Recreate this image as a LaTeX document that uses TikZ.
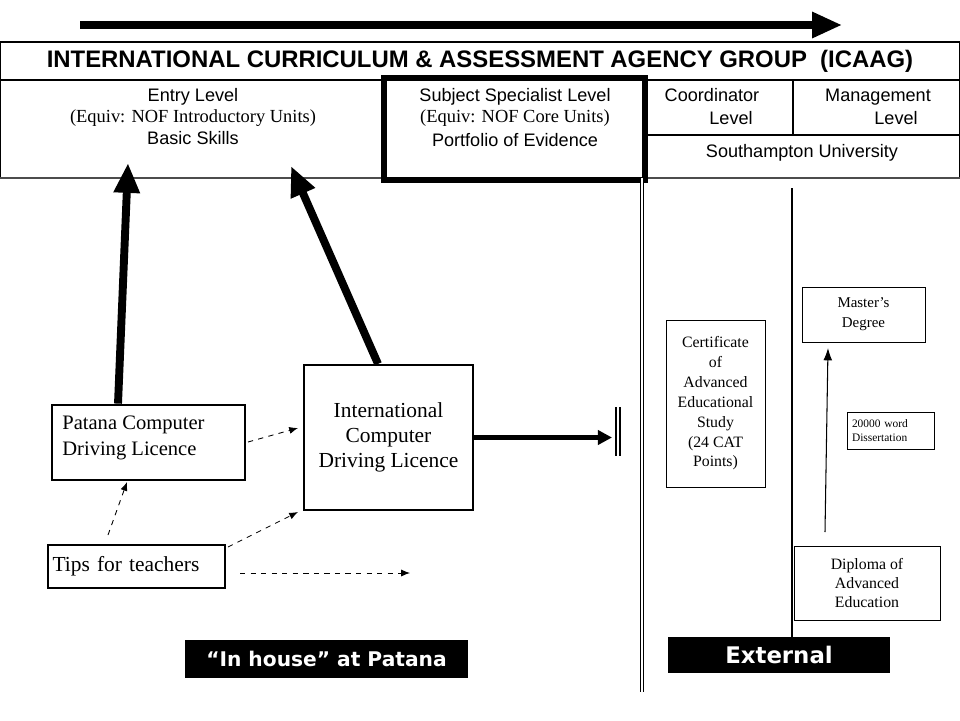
\documentclass[tikz,border=0pt]{standalone}
\usepackage{fontspec}
\setmainfont{Liberation Serif}
\setsansfont{Liberation Sans}
\newfontfamily\tagfont{DejaVu Sans}
\usetikzlibrary{arrows.meta}
\tikzset{>=latex}
\tikzset{
  stepbox/.style={draw, line width=1.6pt, inner sep=0pt},
  thinbox/.style={draw, line width=0.5pt, inner sep=0pt, align=center},
  tagbox/.style={fill=black, text=white, inner sep=0pt, font=\tagfont\bfseries\fontsize{11.5}{13}\selectfont},
  hint/.style={dashed, line width=0.5pt, -{Latex[length=5pt,width=4pt]}},
  bigarrow/.style={line width=4.5pt, -{Triangle[length=17pt,width=14pt]}},
  headtext/.style={font=\sffamily\fontsize{10.3}{11}\selectfont, text height=1.6ex, text depth=0.4ex},
  equivtext/.style={font=\fontsize{10.5}{11}\selectfont, text height=1.6ex, text depth=0.4ex},
}

\begin{document}
\begin{tikzpicture}[x=0.02cm,y=-0.02cm]
\useasboundingbox (0,0) rectangle (960,720);
% progression arrow along the top
\coordinate (start) at (80,25);
\coordinate (finish) at (842,25);
\draw[line width=4pt,-{Triangle[length=17pt,width=14pt]}] (start) -- (finish);
% ICAAG table
\draw[line width=0.6pt] (0.5,42) rectangle (959.5,178);
\draw[line width=0.6pt] (0,80) -- (960,80);
\draw[line width=0.6pt] (793,80) -- (793,135);
\draw[line width=0.6pt] (645,135) -- (960,135);
\draw[line width=1pt, black!70] (0,178) -- (960,178);
\draw[line width=3.4pt] (384,78) rectangle (645,180);
\node[font=\sffamily\bfseries\fontsize{13.6}{15}\selectfont] (title) at (480,61) {INTERNATIONAL CURRICULUM \& ASSESSMENT AGENCY GROUP~~(ICAAG)};
% Entry level
\node[headtext] (entry) at (193,97) {Entry Level};
\node[equivtext] (entryequiv) at (193,118) {(Equiv: NOF Introductory Units)};
\node[headtext] (entrybasic) at (193,140) {Basic Skills};
% Subject specialist level
\node[headtext] (core) at (515,97) {Subject Specialist Level};
\node[equivtext] (coreequiv) at (515,118) {(Equiv: NOF Core Units)};
\node[headtext] (coreport) at (515,142) {Portfolio of Evidence};
% Coordinator / management
\node[headtext] (coord) at (712,97) {Coordinator};
\node[headtext] (coordlvl) at (731,120) {Level};
\node[headtext] (manage) at (878,97) {Management};
\node[headtext] (managelvl) at (896,120) {Level};
\node[headtext] (soton) at (802,153) {Southampton University};
% dividers
\draw[double, double distance=1.5pt, line width=0.6pt] (642,178) -- (642,692);
\draw[line width=0.6pt] (792,188) -- (792,640);
% in house boxes
\node[stepbox, minimum width=3.86cm, minimum height=1.5cm] (pcdl) at (148.5,442.5) {};
\node[anchor=north west, inner sep=0pt, align=left, font=\fontsize{11.7}{14.8}\selectfont] (pcdltext) at (62,416) {Patana Computer\\Driving Licence};
\node[stepbox, minimum width=3.54cm, minimum height=0.86cm, text width=3.36cm, align=left,
  font=\fontsize{12.2}{14}\selectfont] (tips) at (136.5,566.5) {Tips for teachers};
\node[stepbox, line width=1.3pt, minimum width=3.38cm, minimum height=2.9cm, align=center,
  font=\fontsize{12.2}{14.2}\selectfont] (icdl) at (388.5,437.5) {International\\Computer\\Driving Licence};
% external boxes
\node[thinbox, minimum width=1.98cm, minimum height=3.34cm, font=\fontsize{9}{11.3}\selectfont] (caes) at (715.5,403.5)
  {Certificate\\of\\Advanced\\Educational\\Study\\(24 CAT\\Points)};
\node[thinbox, minimum width=2.46cm, minimum height=1.1cm, font=\fontsize{8.5}{11.4}\selectfont] (masters) at (863.5,314.5) {Master’s\\Degree};
\node[thinbox, minimum width=1.74cm, minimum height=0.74cm, text width=1.54cm, align=left,
  font=\fontsize{6.5}{8}\selectfont] (diss) at (890.5,430.5) {20000 word\\Dissertation};
\node[thinbox, minimum width=2.92cm, minimum height=1.48cm, font=\fontsize{9}{10.8}\selectfont] (dae) at (867,583) {Diploma of\\Advanced\\Education};
% black tags
\node[tagbox, minimum width=5.66cm, minimum height=0.76cm] (inhouse) at (326.5,659) {“In house” at Patana};
\node[tagbox, minimum width=4.44cm, minimum height=0.72cm, font=\tagfont\bfseries\fontsize{13}{14}\selectfont] (external) at (779,655) {External};
% thick arrows up to the table
\coordinate (entrytip) at (128,163);
\coordinate (coretip) at (291,166);
\draw[bigarrow] ([xshift=-0.61cm]pcdl.north) -- (entrytip);
\draw[bigarrow] ([xshift=-0.21cm]icdl.north) -- (coretip);
% icdl onwards
\coordinate (stop) at (612,437.5);
\draw[line width=2.8pt,-{Triangle[length=8pt,width=8pt]}] (icdl.east) -- (stop);
\draw[double, double distance=1pt, line width=1pt] (618,407) -- (618,456);
% dashed links
\coordinate (pcdlout) at (248,442);
\coordinate (icdlin) at (298,428);
\coordinate (tipsup) at (108,535);
\coordinate (pcdlin) at (127,482);
\coordinate (tipsout) at (228,547);
\coordinate (icdlbase) at (298,512);
\coordinate (tipsright) at (240,573);
\coordinate (tipsend) at (410,573);
\draw[hint] (pcdlout) -- (icdlin);
\draw[hint] (tipsup) -- (pcdlin);
\draw[hint] (tipsout) -- (icdlbase);
\draw[hint] (tipsright) -- (tipsend);
% diploma to masters
\coordinate (daeup) at (825,532);
\coordinate (mastersin) at (828,348);
\draw[line width=0.6pt,-{Latex[length=7pt,width=5pt]}] (daeup) -- (mastersin);
\end{tikzpicture}
\end{document}
